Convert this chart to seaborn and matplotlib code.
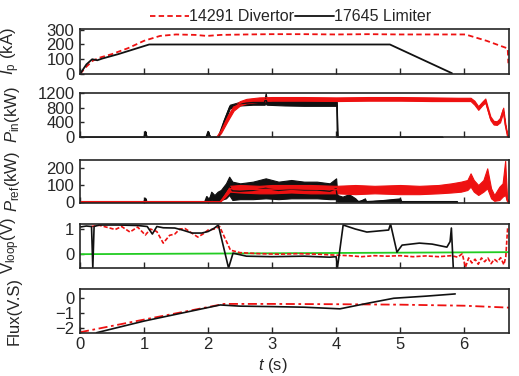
import numpy as np
import pandas as pd
import matplotlib
matplotlib.use("Agg")
import matplotlib.pyplot as plt
import seaborn as sns

RED = "#ee1111"
BLACK = "#111111"
GREEN = "#22cc22"

# plasma current (kA)
ip_div_t = [0, 0.1, 0.2, 0.3, 0.5, 0.75, 1.0, 1.25, 1.5, 1.8, 1.98, 2.2, 2.6, 3.0, 3.5, 4.0, 4.5, 5.0, 5.5, 6.02, 6.35, 6.68, 6.69]
ip_div = [0, 50, 90, 110, 135, 175, 225, 258, 268, 265, 258, 265, 268, 270, 270, 268, 270, 268, 268, 268, 225, 173, 73]
ip_lim_t = [0, 0.1, 0.19, 0.27, 0.35, 0.6, 1.08, 1.2, 4.84, 5.81]
ip_lim = [0, 65, 100, 93, 105, 135, 200, 200, 200, 5]

# injected power (kW), noisy signals given as lower / upper envelope
pin_div_t = [2.14, 2.2, 2.3, 2.4, 2.5, 2.6, 2.8, 3.0, 3.5, 4.0, 4.5, 5.0, 5.5, 5.9, 6.1, 6.16, 6.22, 6.28, 6.33, 6.37, 6.41, 6.46, 6.51, 6.56, 6.61, 6.64, 6.68]
pin_div_lo = [0, 100, 420, 720, 860, 920, 960, 990, 990, 980, 990, 990, 980, 980, 980, 880, 740, 860, 940, 700, 460, 340, 330, 400, 680, 300, 0]
pin_div_hi = [0, 200, 560, 860, 980, 1040, 1080, 1090, 1090, 1080, 1090, 1090, 1080, 1070, 1070, 990, 840, 960, 1050, 800, 560, 440, 430, 520, 800, 400, 0]
pin_lim_t = [0, 1.0, 1.02, 1.04, 1.97, 2.0, 2.03, 2.16, 2.25, 2.34, 2.5, 2.7, 2.88, 2.9, 2.92, 3.2, 3.5, 3.8, 3.98, 4.01, 4.02, 4.03, 4.3, 5.0, 5.66]
pin_lim_lo = [0, 0, 150, 0, 0, 150, 0, 0, 380, 780, 860, 880, 880, 900, 880, 860, 850, 850, 850, 850, 0, 0, 0, 0, 0]
pin_lim_hi = [0, 0, 150, 0, 0, 150, 0, 0, 480, 880, 960, 1000, 1000, 1200, 1000, 990, 990, 1000, 1000, 1000, 0, 0, 0, 0, 0]

# reflected power (kW)
pref_div_t = [0, 2.19, 2.27, 2.34, 2.5, 2.8, 3.0, 3.3, 3.6, 4.0, 4.3, 4.6, 5.0, 5.3, 5.6, 5.8, 5.95, 6.05, 6.1, 6.15, 6.22, 6.3, 6.36, 6.42, 6.47, 6.55, 6.6, 6.64, 6.67, 6.7]
pref_div_lo = [0, 0, 30, 60, 55, 50, 50, 55, 50, 50, 45, 50, 45, 45, 50, 55, 60, 70, 90, 60, 40, 60, 80, 20, 5, 10, 30, 40, 0, 0]
pref_div_hi = [0, 0, 50, 95, 100, 95, 100, 100, 100, 95, 100, 95, 100, 95, 100, 110, 120, 130, 170, 130, 100, 130, 200, 80, 40, 90, 110, 245, 20, 0]
pref_lim_t = [0, 1.0, 1.02, 1.04, 1.95, 1.98, 2.0, 2.05, 2.1, 2.15, 2.2, 2.28, 2.33, 2.38, 2.5, 2.7, 2.9, 3.1, 3.3, 3.5, 3.7, 3.9, 4.0, 4.02, 4.1, 4.2, 4.3, 4.35, 4.45, 4.47, 5.0, 5.02, 5.89]
pref_lim_lo = [0, 0, 20, 0, 0, 30, 0, 10, 0, 0, 10, 20, 40, 10, 15, 15, 20, 15, 20, 20, 20, 15, 15, 0, 0, 0, 0, 0, 0, 0, 0, 0, 0]
pref_lim_hi = [0, 0, 20, 0, 0, 30, 0, 60, 40, 60, 70, 110, 150, 120, 110, 120, 140, 120, 130, 120, 120, 110, 140, 40, 30, 45, 20, 0, 20, 0, 20, 0, 0]

# loop voltage (V)
vl_lim_t = [0, 0.1, 0.18, 0.2, 0.22, 0.3, 0.6, 0.9, 1.05, 1.13, 1.2, 1.3, 1.48, 1.6, 1.75, 1.9, 2.0, 2.1, 2.16, 2.32, 2.39, 2.6, 3.0, 3.5, 3.9, 4.0, 4.02, 4.11, 4.3, 4.48, 4.65, 4.82, 4.85, 4.95, 5.03, 5.3, 5.5, 5.73, 5.78, 5.8, 5.83]
vl_lim = [1.08, 1.12, 1.1, -0.55, 1.1, 1.16, 1.16, 1.14, 1.1, 0.8, 1.1, 1.05, 1.04, 0.96, 0.84, 0.84, 0.9, 1.04, 1.16, -0.55, 0.04, -0.08, -0.1, -0.08, -0.12, -0.1, -0.55, 1.16, 1.0, 0.88, 0.92, 0.96, 1.2, 0.08, 0.36, 0.44, 0.4, 0.28, 0.5, 1.04, -0.55]
vl_div_t = [0.18, 0.3, 0.45, 0.55, 0.65, 0.78, 0.9, 1.02, 1.1, 1.2, 1.3, 1.4, 1.48, 1.56, 1.64, 1.74, 1.84, 1.92, 2.0, 2.1, 2.18, 2.35, 2.5, 2.8, 3.1, 3.4, 3.7, 4.0, 4.2, 4.4, 4.6, 4.8, 5.0, 5.2, 5.4, 5.6, 5.8, 5.9, 5.97, 6.02, 6.07, 6.12, 6.17, 6.22, 6.27, 6.32, 6.37, 6.42, 6.47, 6.52, 6.57, 6.62, 6.65, 6.68]
vl_div = [1.1, 1.15, 1.05, 0.98, 1.1, 0.88, 1.08, 0.76, 1.0, 0.9, 0.44, 0.75, 0.8, 1.0, 1.02, 0.85, 0.68, 0.8, 0.96, 1.0, 1.1, 0.16, 0.06, 0.02, 0.0, 0.02, 0.0, -0.04, -0.06, -0.1, -0.06, -0.08, -0.06, -0.1, -0.07, -0.1, -0.06, -0.12, 0.02, -0.52, -0.15, -0.35, -0.2, -0.4, -0.15, -0.3, -0.15, -0.38, -0.2, -0.3, -0.14, -0.42, -0.1, 1.1]
vl_zero_t = [0, 6.7]
vl_zero = [0.0, 0.08]

# flux (V.s)
flux_lim_t = [0.26, 1.0, 2.19, 2.5, 3.0, 3.5, 4.06, 4.5, 4.9, 5.4, 5.86]
flux_lim = [-2.33, -1.55, -0.47, -0.55, -0.58, -0.62, -0.73, -0.35, -0.02, 0.12, 0.27]
flux_div_t = [0.0, 1.0, 2.25, 3.0, 4.0, 5.0, 6.0, 6.7]
flux_div = [-2.3, -1.45, -0.4, -0.4, -0.42, -0.45, -0.52, -0.65]

sns.set_style("ticks")
plt.rcParams["font.family"] = ["Liberation Sans", "DejaVu Sans"]
plt.rcParams["mathtext.fontset"] = "custom"
plt.rcParams["mathtext.rm"] = "Liberation Sans"
plt.rcParams["mathtext.it"] = "Liberation Sans:italic"
plt.rcParams["axes.linewidth"] = 1.2

W, H = 519, 376
fig = plt.figure(figsize=(W / 100, H / 100), dpi=100)

panels = [(29, 74), (93, 137), (160, 203), (224, 268), (289, 333)]
axes = []
for top, bot in panels:
    ax = fig.add_axes([80 / W, 1 - bot / H, 429 / W, (bot - top) / H])
    axes.append(ax)


def line(ax, t, v, color, lw=1.2, **kw):
    df = pd.DataFrame({"t": t, "v": v})
    sns.lineplot(data=df, x="t", y="v", ax=ax, color=color, lw=lw,
                 estimator=None, sort=False, **kw)


def band(ax, t, lo, hi, color, alpha=1.0):
    # min/max envelope of a noisy trace, drawn as seaborn's interval band
    df = pd.DataFrame({"t": list(t) + list(t), "v": list(lo) + list(hi)})
    sns.lineplot(data=df, x="t", y="v", ax=ax, color=color, lw=1.0,
                 estimator="mean", errorbar=("pi", 100),
                 err_kws={"alpha": alpha, "lw": 0.8, "edgecolor": color})


# Ip
ax = axes[0]
line(ax, ip_div_t, ip_div, RED, lw=1.3, linestyle=(0, (3, 1.8)), label="14291 Divertor")
line(ax, ip_lim_t, ip_lim, BLACK, lw=1.3, label="17645 Limiter")
ax.set_ylim(0, 305)
ax.set_yticks([0, 100, 200, 300])
ax.set_ylabel("$I_{\\rm p}$ (kA)")

# Pin
ax = axes[1]
band(ax, pin_lim_t, pin_lim_lo, pin_lim_hi, BLACK)
band(ax, pin_div_t, pin_div_lo, pin_div_hi, RED)
ax.set_ylim(0, 1200)
ax.set_yticks([0, 400, 800, 1200])
ax.set_ylabel("$P_{\\rm in}$(kW)")

# Pref
ax = axes[2]
band(ax, pref_lim_t, pref_lim_lo, pref_lim_hi, BLACK)
band(ax, pref_div_t, pref_div_lo, pref_div_hi, RED)
ax.set_ylim(-8, 250)
ax.set_yticks([0, 100, 200])
ax.set_ylabel("$P_{\\rm ref}$(kW)")

# Vloop
ax = axes[3]
line(ax, vl_zero_t, vl_zero, GREEN, lw=1.3)
line(ax, vl_div_t, vl_div, RED, lw=1.2, linestyle=(0, (2.5, 1.2)))
line(ax, vl_lim_t, vl_lim, BLACK, lw=1.2)
ax.set_ylim(-0.55, 1.2)
ax.set_yticks([0, 1])
ax.set_ylabel("V$_{\\rm loop}$(V)")

# Flux
ax = axes[4]
line(ax, flux_div_t, flux_div, RED, lw=1.3, linestyle=(0, (5, 2, 1.5, 2)))
line(ax, flux_lim_t, flux_lim, BLACK, lw=1.2)
ax.set_ylim(-2.35, 0.6)
ax.set_yticks([-2, -1, 0])
ax.set_ylabel("Flux(V.S)")
ax.set_xlabel("$t$ (s)", fontsize=12)
ax.xaxis.set_label_coords(0.45, -0.52)

for i, ax in enumerate(axes):
    ax.set_xlim(0, 6.7)
    ax.set_xticks(range(7))
    ax.tick_params(direction="in", length=4, width=1, labelsize=12, pad=3)
    ax.tick_params(axis="y", length=3, pad=4)
    ax.yaxis.label.set_size(12)
    ax.yaxis.set_label_coords(-0.135, 0.5)
    if i < 4:
        ax.set_xticklabels([])
        ax.set_xlabel("")
    leg = ax.get_legend()
    if leg is not None:
        leg.remove()

handles, labels = axes[0].get_legend_handles_labels()
fig.legend(handles, labels, loc="center", bbox_to_anchor=(0.56, 0.955), ncol=2,
           frameon=False, fontsize=11.5, handlelength=2.4, handletextpad=0.0,
           columnspacing=0.1)

fig.savefig("out.png", dpi=100)
